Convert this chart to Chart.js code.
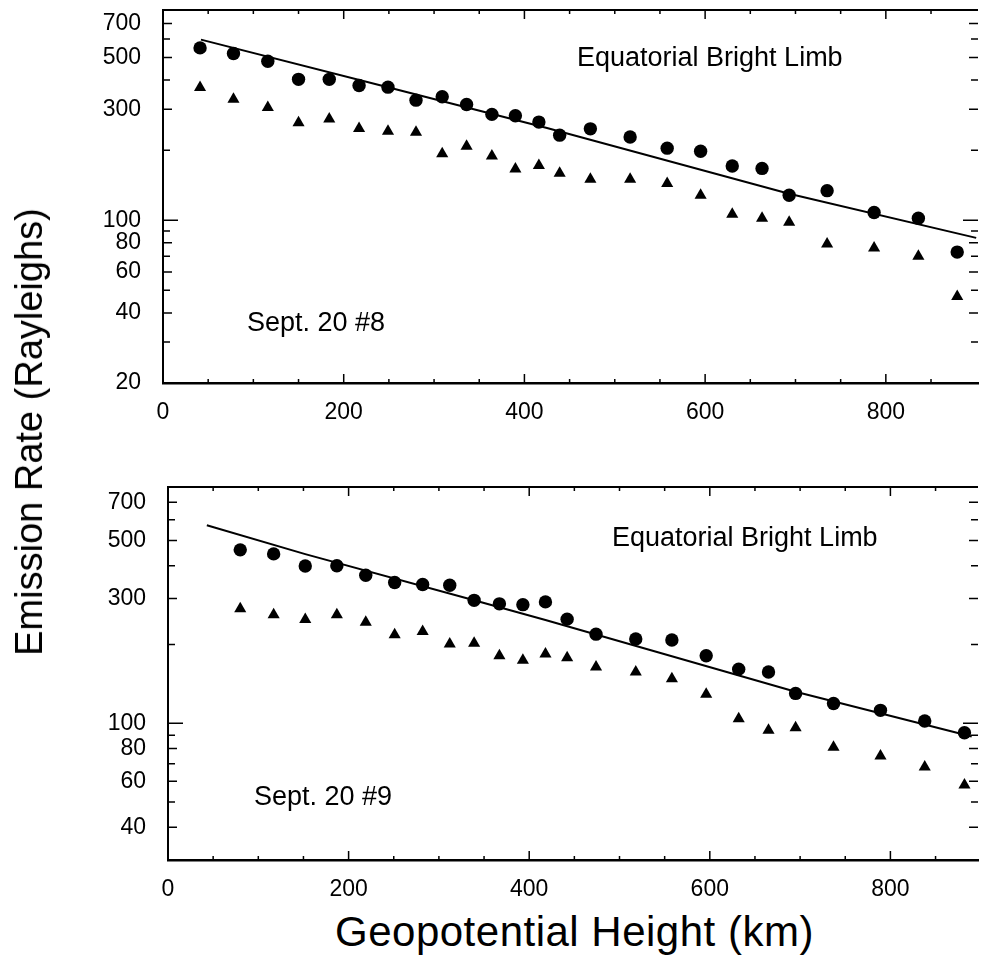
<!DOCTYPE html>
<html>
<head>
<meta charset="utf-8">
<script src="https://cdn.jsdelivr.net/npm/chart.js@4.4.1/dist/chart.umd.min.js"></script>
<style>
  html, body { margin: 0; padding: 0; background: #fff; overflow: hidden; width: 981px; height: 961px; }
  canvas { position: absolute; left: 0; }
  #c8 { top: 0; }
  #c9 { top: 477px; }
  .txt { position: absolute; font-family: "Liberation Sans", Arial, sans-serif; color: #000; white-space: nowrap; line-height: 1; }
</style>
</head>
<body>
<canvas id="c8" width="985" height="430"></canvas>
<canvas id="c9" width="985" height="430"></canvas>

<div class="txt" style="left:577px; top:44px; font-size:27px;">Equatorial Bright Limb</div>
<div class="txt" style="left:247px; top:309px; font-size:27px;">Sept. 20 #8</div>
<div class="txt" style="left:612px; top:524px; font-size:27px;">Equatorial Bright Limb</div>
<div class="txt" style="left:254px; top:783px; font-size:27px;">Sept. 20 #9</div>
<div class="txt" style="left:29px; top:432px; font-size:38px; transform: translate(-50%, -50%) rotate(-90deg);">Emission Rate (Rayleighs)</div>
<div class="txt" style="left:335px; top:911px; font-size:42px; letter-spacing:0.5px;">Geopotential Height (km)</div>

<script>
// Sept. 20 #8 (top panel)
const heights8 = [41, 78, 116, 150, 184, 217, 249, 280, 309, 336, 364, 390, 416, 439, 473, 517, 558, 595, 630, 663, 693, 735, 787, 836, 879];
const circles8 = [550, 520, 482, 403, 403, 379, 373, 328, 339, 314, 285, 281, 264, 232, 247, 228, 204, 198, 171, 167, 128, 134, 108, 102, 73];
const triangles8 = [372, 331, 305, 262, 272, 248, 241, 239, 193, 208, 189, 166, 172, 159, 150, 150, 144, 128, 106, 102, 98, 79, 76, 70, 47];
const fitX8 = [42, 250, 425, 693, 900];
const fitY8 = [597, 372, 249, 130, 84];

// Sept. 20 #9 (bottom panel)
const heights9 = [80, 117, 152, 187, 219, 251, 282, 312, 339, 367, 393, 418, 442, 474, 518, 558, 596, 632, 665, 695, 737, 789, 838, 882];
const circles9 = [460, 444, 399, 400, 368, 345, 339, 337, 295, 286, 284, 291, 250, 219, 210, 208, 181, 161, 157, 130, 119, 112, 102, 92];
const triangles9 = [274, 260, 249, 260, 243, 218, 224, 201, 202, 181, 174, 184, 178, 164, 157, 148, 129, 104, 94, 96, 81, 75, 68, 58];
const fitX9 = [43, 152, 339, 418, 695, 890];
const fitY9 = [571, 443, 295, 248, 132, 89];

// tick labels and tick marks
const yLabels8 = [20, 40, 60, 80, 100, 300, 500, 700];
const yLabels9 = [40, 60, 80, 100, 300, 500, 700];
const yMinor = [30, 50, 70, 90, 200, 400, 600];
const xLabels = [0, 200, 400, 600, 800];
const xMinor = [50, 100, 150, 250, 300, 350, 450, 500, 550, 650, 700, 750, 850];

Chart.defaults.font.family = '"Liberation Sans", Arial, sans-serif';
Chart.defaults.color = '#000';

const pts = (xs, ys) => xs.map((x, i) => ({ x: x, y: ys[i] }));

// ticks point inward on all four sides, plus the top frame line
const innerTicks = {
  id: 'innerTicks',
  afterDatasetsDraw(chart, args, o) {
    const { ctx, chartArea: a, scales: { x, y } } = chart;
    ctx.save();
    ctx.strokeStyle = '#000';
    ctx.lineWidth = 2;
    ctx.beginPath();
    ctx.moveTo(a.left, a.top);
    ctx.lineTo(a.right, a.top);
    ctx.stroke();
    ctx.lineWidth = 1.5;
    ctx.beginPath();
    o.yMajor.concat(o.yMinor).forEach(v => {
      const p = y.getPixelForValue(v);
      const len = v === 100 ? 15 : (o.yMajor.includes(v) ? 9 : 7);
      ctx.moveTo(a.left, p); ctx.lineTo(a.left + len, p);
      ctx.moveTo(a.right, p); ctx.lineTo(a.right - len, p);
    });
    xLabels.concat(xMinor).forEach(v => {
      const p = x.getPixelForValue(v);
      const len = xLabels.includes(v) ? 9 : 4;
      ctx.moveTo(p, a.bottom); ctx.lineTo(p, a.bottom - len);
      ctx.moveTo(p, a.top); ctx.lineTo(p, a.top + len);
    });
    ctx.stroke();
    ctx.restore();
  }
};

function makeChart(id, xs, circ, tri, fx, fy, yMin, xMax, yAxisWidth, yLabels) {
  return new Chart(document.getElementById(id), {
    type: 'scatter',
    data: {
      datasets: [
        { data: pts(fx, fy), showLine: true, pointRadius: 0, borderColor: '#000', borderWidth: 2, order: 3 },
        { data: pts(xs, circ), pointStyle: 'circle', pointRadius: 6.7, backgroundColor: '#000', borderColor: '#000', borderWidth: 0 },
        { data: pts(xs, tri), pointStyle: 'triangle', pointRadius: 7, backgroundColor: '#000', borderColor: '#000', borderWidth: 0 }
      ]
    },
    options: {
      responsive: false,
      animation: false,
      events: [],
      layout: { padding: { top: 10, left: 0, right: 0, bottom: 0 } },
      plugins: {
        legend: { display: false },
        tooltip: { enabled: false },
        innerTicks: { yMajor: yLabels, yMinor: yMinor }
      },
      scales: {
        x: {
          type: 'linear',
          min: 0,
          max: xMax,
          grid: { display: false, drawTicks: false },
          border: { display: true, color: '#000', width: 2.5 },
          ticks: { stepSize: 200, includeBounds: false, padding: 16, font: { size: 23 } },
          afterFit(s) { s.height = 47; s.paddingLeft = 0; s.paddingRight = 0; }
        },
        y: {
          type: 'logarithmic',
          min: yMin,
          max: 800,
          grid: { display: false, drawTicks: false },
          border: { display: true, color: '#000', width: 2 },
          ticks: { padding: 22, font: { size: 23 }, callback: v => String(v) },
          afterBuildTicks(s) { s.ticks = yLabels.map(v => ({ value: v })); },
          afterFit(s) { s.width = yAxisWidth; s.paddingTop = 0; s.paddingBottom = 0; }
        }
      }
    },
    plugins: [innerTicks]
  });
}

makeChart('c8', heights8, circles8, triangles8, fitX8, fitY8, 20, 902, 163, yLabels8);
makeChart('c9', heights9, circles9, triangles9, fitX9, fitY9, 30, 897, 168, yLabels9);
</script>
</body>
</html>
